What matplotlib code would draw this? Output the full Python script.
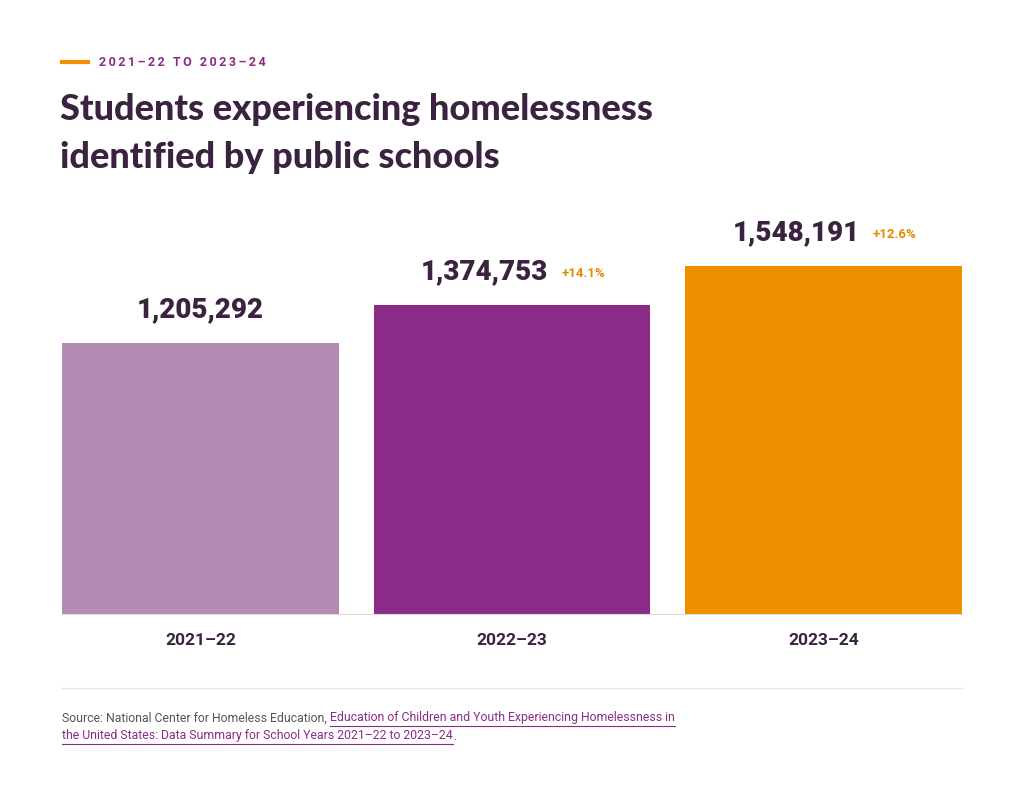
import matplotlib.pyplot as plt
from matplotlib.lines import Line2D

years = ["2021\u201322", "2022\u201323", "2023\u201324"]
students = [1205292, 1374753, 1548191]
changes = [None, "+14.1%", "+12.6%"]
colors = ["#b48bb5", "#8a2c87", "#f09000"]

dark = "#3b2240"
plt.rcParams["font.family"] = ["Roboto", "DejaVu Sans"]

fig = plt.figure(figsize=(10.24, 7.86), dpi=100)
fig.patch.set_facecolor("white")

ax = fig.add_axes([62 / 1024, 1 - 614 / 786, 900 / 1024, 414 / 786])
x = range(len(years))
ax.bar(x, students, width=0.888, color=colors)
ax.set_xlim(-0.444, 2.444)
ax.set_ylim(0, 1842000)
for s in ["top", "right", "left"]:
    ax.spines[s].set_visible(False)
ax.spines["bottom"].set_color("#dddddd")
ax.set_yticks([])
ax.set_xticks(list(x))
ax.set_xticklabels(years, fontsize=12.5, fontweight="bold", color=dark)
ax.tick_params(axis="x", length=0, pad=14)

for i, (v, c) in enumerate(zip(students, changes)):
    off = -0.088 if c else 0
    ax.annotate(f"{v:,}", (i + off, v), xytext=(0, 14), textcoords="offset points",
                ha="center", va="bottom", fontsize=20, fontweight="black", color=dark)
    if c:
        ax.annotate(c, (i + 0.158, v), xytext=(0, 18), textcoords="offset points",
                    ha="left", va="bottom", fontsize=9.5, fontweight="bold", color="#e08a00")

# header
fig.add_artist(Line2D([62 / 1024, 88 / 1024], [1 - 62 / 786] * 2, color="#f09000", lw=3))
fig.text(99 / 1024, 1 - 62 / 786, "\u2009".join("2021\u201322 TO 2023\u201324"), fontsize=9,
         fontweight="bold", color="#8a2c87", va="center", ha="left")
for ty, line in [(110, "Students experiencing homelessness"), (158, "identified by public schools")]:
    fig.text(60 / 1024, 1 - ty / 786, line, fontsize=26, fontweight="black",
             family=["Lato", "Roboto", "DejaVu Sans"], color=dark, va="center")

# footer
fig.add_artist(Line2D([62 / 1024, 962 / 1024], [1 - 688 / 786] * 2, color="#e6e6e6", lw=1))
fs = 8.8
t1 = fig.text(62 / 1024, 1 - 718 / 786, "Source: National Center for Homeless Education, ",
              fontsize=fs, color="#555555", va="center")
fig.canvas.draw()
bb = t1.get_window_extent()
l1 = fig.text(bb.x1 / 1024, 1 - 718 / 786,
              "Education of Children and Youth Experiencing Homelessness in",
              fontsize=fs, color="#8a2c87", va="center")
l2 = fig.text(62 / 1024, 1 - 736 / 786,
              "the United States: Data Summary for School Years 2021\u201322 to 2023\u201324",
              fontsize=fs, color="#8a2c87", va="center")
fig.canvas.draw()
for t, ty in [(l1, 718), (l2, 736)]:
    e = t.get_window_extent()
    fig.add_artist(Line2D([e.x0 / 1024, e.x1 / 1024], [1 - (ty + 8) / 786] * 2,
                          color="#8a2c87", lw=0.8))
e2 = l2.get_window_extent()
fig.text(e2.x1 / 1024, 1 - 736 / 786, ".", fontsize=fs, color="#555555", va="center")

fig.savefig("out.png", dpi=100)
